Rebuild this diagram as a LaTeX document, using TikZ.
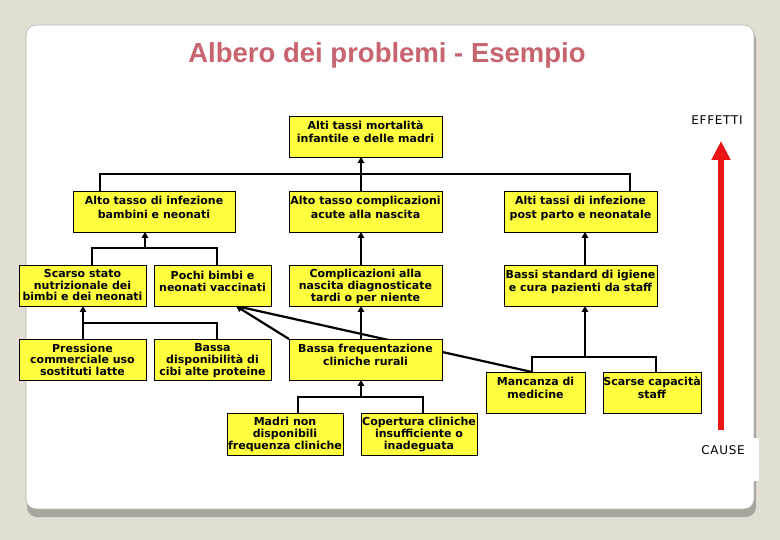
\documentclass[tikz,border=0pt]{standalone}
\usepackage{fontspec}
\setmainfont{DejaVu Sans}
\newfontfamily\titlefont{Liberation Sans}
\usetikzlibrary{arrows.meta}
\definecolor{bgc}{RGB}{227,222,212}
\definecolor{shd}{RGB}{168,165,158}
\definecolor{ylw}{RGB}{255,255,64}
\definecolor{ttl}{RGB}{200,100,112}
\definecolor{rred}{RGB}{235,20,20}
\pgfdeclarelayer{back}
\pgfdeclarelayer{bg}
\pgfsetlayers{back,bg,main}
\newcommand\pbox[8]{%
  \node[boxst, minimum width={(#4-#2)*1pt}, minimum height={(#5-#3)*1pt}] (#1) at ({(#2+#4)/2},{(#3+#5)/2}) {};
  \node[txt, font=\bfseries\fontsize{11}{#7}\selectfont, anchor=north] (#1t) at ([yshift=-#6pt]#1.north) {#8};}
\begin{document}
\begin{tikzpicture}[x=1pt,y=-1pt,
  boxst/.style={draw=black, line width=0.9pt, fill=ylw, inner sep=0pt, outer sep=0pt},
  txt/.style={align=center, inner sep=0pt},
  ln/.style={line width=1.1pt},
  arr/.style={line width=2.2pt, -{Triangle[length=6pt,width=6.5pt]}},
  tarr/.style={line width=1.1pt, -{Triangle[length=6pt,width=6.5pt]}},
  lbl/.style={font=\fontsize{12}{14}\selectfont\addfontfeatures{LetterSpace=6}, inner sep=1pt}]
\path[use as bounding box] (0,0) rectangle (780,540);
\begin{pgfonlayer}{back}
\fill[bgc] (0,0) rectangle (780,540);
\fill[shd, rounded corners=10pt] (27,30) rectangle (756,517);
\filldraw[fill=white, draw=gray!60, line width=0.6pt, rounded corners=10pt] (26,25) rectangle (754,509);
\fill[white] (700,438) rectangle (759,481);
\end{pgfonlayer}

\node[font=\titlefont\bfseries\fontsize{27.5}{32}\selectfont, text=ttl] (title) at (387,55) {Albero dei problemi - Esempio};

\pbox{top}{289}{116}{442}{157}{5}{13}{Alti tassi mortalità\\infantile e delle madri}
\pbox{la}{73}{191}{235}{232}{5}{13.5}{Alto tasso di infezione\\bambini e neonati}
\pbox{lb}{289}{191}{442}{232}{5}{13.5}{Alto tasso complicazioni\\acute alla nascita}
\pbox{lc}{504}{191}{657}{232}{5}{13.5}{Alti tassi di infezione\\post parto e neonatale}
\pbox{ma}{19}{265}{146}{306}{4}{11.8}{Scarso stato\\nutrizionale dei\\bimbi e dei neonati}
\pbox{mb}{154}{265}{271}{306}{5.5}{12.7}{Pochi bimbi e\\neonati vaccinati}
\pbox{mc}{289}{265}{442}{306}{4}{11.8}{Complicazioni alla\\nascita diagnosticate\\tardi o per niente}
\pbox{md}{504}{265}{657}{306}{5}{13}{Bassi standard di igiene\\e cura pazienti da staff}
\pbox{na}{19}{339}{146}{380}{4.5}{11.8}{Pressione\\commerciale uso\\sostituti latte}
\pbox{nb}{154}{339}{271}{380}{4.5}{11.8}{Bassa\\disponibilità di\\cibi alte proteine}
\pbox{nc}{289}{339}{442}{380}{5}{12.5}{Bassa frequentazione\\cliniche rurali}
\pbox{nd}{486}{372}{585}{413}{5}{13}{Mancanza di\\medicine}
\pbox{ne}{603}{372}{701}{413}{5}{13}{Scarse capacità\\staff}
\pbox{oa}{227}{413}{343}{455}{4}{11.8}{Madri non\\disponibili\\frequenza cliniche}
\pbox{ob}{361}{413}{477}{455}{4}{11.8}{Copertura cliniche\\insufficiente o\\inadeguata}

\node[lbl] (eff) at (717,120) {EFFETTI};
\node[lbl] (cause) at (723,450) {CAUSE};
\coordinate (rb) at (721,430);
\coordinate (rt) at (721,141);

\coordinate (jAl) at (100,174); \coordinate (jAr) at (630,174); \coordinate (jAm) at (361,174);
\coordinate (jBl) at (92,248); \coordinate (jBr) at (217,248); \coordinate (jBm) at (145,248);
\coordinate (jCl) at (83,323); \coordinate (jCr) at (217,323);
\coordinate (jEl) at (532,357); \coordinate (jEr) at (656,357); \coordinate (jEm) at (585,357);
\coordinate (jFl) at (298,397); \coordinate (jFr) at (423,397); \coordinate (jFm) at (361,397);
\coordinate (pv) at (236,306);

\begin{pgfonlayer}{bg}
\draw[ln] (la.north -| jAl) -- (jAl) -- (jAr) -- (lc.north -| jAr);
\draw[arr] (lb.north -| jAm) -- (top.south -| jAm);
\draw[ln] (ma.north -| jBl) -- (jBl) -- (jBr) -- (mb.north -| jBr);
\draw[arr] (jBm) -- (la.south -| jBm);
\draw[arr] (mc.north -| jAm) -- (lb.south -| jAm);
\draw[arr] (md.north -| jEm) -- (lc.south -| jEm);
\draw[ln] (nd.north -| jEl) -- (jEl) -- (jEr) -- (ne.north -| jEr);
\draw[arr] (jEm) -- (md.south -| jEm);
\draw[ln] (na.north -| jCl) -- (jCl) -- (jCr) -- (nb.north -| jCr);
\draw[tarr] (jCl) -- (ma.south -| jCl);
\draw[arr] (nc.north -| jAm) -- (mc.south -| jAm);
\draw[ln] (oa.north -| jFl) -- (jFl) -- (jFr) -- (ob.north -| jFr);
\draw[arr] (jFm) -- (nc.south -| jFm);
\draw[arr] (nd.north -| jEl) -- (mb.south -| pv);
\draw[arr] (nc.north west) -- (mb.south -| pv);
\draw[line width=5.5pt, rred, -{Triangle[length=19pt,width=18pt]}] (rb) -- (rt);
\end{pgfonlayer}
\end{tikzpicture}
\end{document}
